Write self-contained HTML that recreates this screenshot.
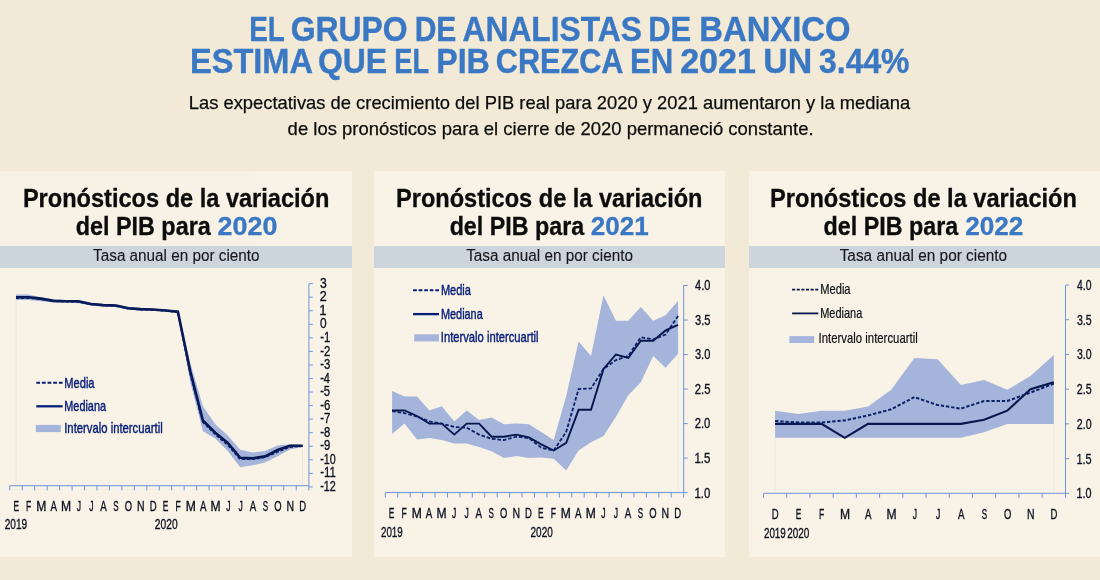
<!DOCTYPE html>
<html><head><meta charset="utf-8"><title>PIB</title>
<style>
html,body{margin:0;padding:0;background:#f2ead6;}
body{width:1100px;height:580px;overflow:hidden;position:relative;font-family:"Liberation Sans",sans-serif;}
svg{position:absolute;left:0;top:0;display:block;will-change:transform;opacity:0.999}
text{font-family:"Liberation Sans",sans-serif;}
</style></head><body>
<svg width="1100" height="580" viewBox="0 0 1100 580">
<rect width="1100" height="580" fill="#f2ead6"/>
<rect x="0" y="171" width="352" height="386" fill="#f8f3e6"/>
<rect x="0" y="246" width="352" height="22" fill="#ccd5dd"/>
<rect x="374" y="171" width="351" height="386" fill="#f8f3e6"/>
<rect x="374" y="246" width="351" height="22" fill="#ccd5dd"/>
<rect x="749" y="171" width="351" height="386" fill="#f8f3e6"/>
<rect x="749" y="246" width="351" height="22" fill="#ccd5dd"/>
<text x="249.16" y="40.8" font-size="34.7" fill="#3b78c4" font-weight="bold" text-anchor="start" textLength="35.62" lengthAdjust="spacingAndGlyphs" stroke="#3b78c4" stroke-width="0.4">EL</text>
<text x="290.70" y="40.8" font-size="34.7" fill="#3b78c4" font-weight="bold" text-anchor="start" textLength="116.98" lengthAdjust="spacingAndGlyphs" stroke="#3b78c4" stroke-width="0.4">GRUPO</text>
<text x="414.63" y="40.8" font-size="34.7" fill="#3b78c4" font-weight="bold" text-anchor="start" textLength="41.67" lengthAdjust="spacingAndGlyphs" stroke="#3b78c4" stroke-width="0.4">DE</text>
<text x="462.50" y="40.8" font-size="34.7" fill="#3b78c4" font-weight="bold" text-anchor="start" textLength="179.43" lengthAdjust="spacingAndGlyphs" stroke="#3b78c4" stroke-width="0.4">ANALISTAS</text>
<text x="648.17" y="40.8" font-size="34.7" fill="#3b78c4" font-weight="bold" text-anchor="start" textLength="42.95" lengthAdjust="spacingAndGlyphs" stroke="#3b78c4" stroke-width="0.4">DE</text>
<text x="699.35" y="40.8" font-size="34.7" fill="#3b78c4" font-weight="bold" text-anchor="start" textLength="151.16" lengthAdjust="spacingAndGlyphs" stroke="#3b78c4" stroke-width="0.4">BANXICO</text>
<text x="189.97" y="72.8" font-size="34.7" fill="#3b78c4" font-weight="bold" text-anchor="start" textLength="122.95" lengthAdjust="spacingAndGlyphs" stroke="#3b78c4" stroke-width="0.4">ESTIMA</text>
<text x="317.90" y="72.8" font-size="34.7" fill="#3b78c4" font-weight="bold" text-anchor="start" textLength="69.24" lengthAdjust="spacingAndGlyphs" stroke="#3b78c4" stroke-width="0.4">QUE</text>
<text x="394.30" y="72.8" font-size="34.7" fill="#3b78c4" font-weight="bold" text-anchor="start" textLength="34.77" lengthAdjust="spacingAndGlyphs" stroke="#3b78c4" stroke-width="0.4">EL</text>
<text x="436.19" y="72.8" font-size="34.7" fill="#3b78c4" font-weight="bold" text-anchor="start" textLength="53.63" lengthAdjust="spacingAndGlyphs" stroke="#3b78c4" stroke-width="0.4">PIB</text>
<text x="495.84" y="72.8" font-size="34.7" fill="#3b78c4" font-weight="bold" text-anchor="start" textLength="127.64" lengthAdjust="spacingAndGlyphs" stroke="#3b78c4" stroke-width="0.4">CREZCA</text>
<text x="630.05" y="72.8" font-size="34.7" fill="#3b78c4" font-weight="bold" text-anchor="start" textLength="43.30" lengthAdjust="spacingAndGlyphs" stroke="#3b78c4" stroke-width="0.4">EN</text>
<text x="680.14" y="72.8" font-size="34.7" fill="#3b78c4" font-weight="bold" text-anchor="start" textLength="75.71" lengthAdjust="spacingAndGlyphs" stroke="#3b78c4" stroke-width="0.4">2021</text>
<text x="763.31" y="72.8" font-size="34.7" fill="#3b78c4" font-weight="bold" text-anchor="start" textLength="48.92" lengthAdjust="spacingAndGlyphs" stroke="#3b78c4" stroke-width="0.4">UN</text>
<text x="819.10" y="72.8" font-size="34.7" fill="#3b78c4" font-weight="bold" text-anchor="start" textLength="90.35" lengthAdjust="spacingAndGlyphs" stroke="#3b78c4" stroke-width="0.4">3.44%</text>
<text x="188.75" y="108.8" font-size="19.0" fill="#0c0c0c" font-weight="normal" text-anchor="start" textLength="721.42" lengthAdjust="spacingAndGlyphs" stroke="#0c0c0c" stroke-width="0.25">Las expectativas de crecimiento del PIB real para 2020 y 2021 aumentaron y la mediana</text>
<text x="287.62" y="134.5" font-size="19.0" fill="#0c0c0c" font-weight="normal" text-anchor="start" textLength="526.01" lengthAdjust="spacingAndGlyphs" stroke="#0c0c0c" stroke-width="0.25">de los pronósticos para el cierre de 2020 permaneció constante.</text>
<text x="22.89" y="206.7" font-size="24.9" fill="#0c0c0c" font-weight="bold" text-anchor="start" textLength="306.54" lengthAdjust="spacingAndGlyphs" stroke="#0c0c0c" stroke-width="0.3">Pronósticos de la variación</text>
<text x="75.66" y="234.7" font-size="24.9" fill="#0c0c0c" font-weight="bold" text-anchor="start" textLength="135.10" lengthAdjust="spacingAndGlyphs" stroke="#0c0c0c" stroke-width="0.3">del PIB para</text>
<text x="217.64" y="234.7" font-size="24.9" fill="#3b78c4" font-weight="bold" text-anchor="start" textLength="59.79" lengthAdjust="spacingAndGlyphs" stroke="#3b78c4" stroke-width="0.3">2020</text>
<text x="93.11" y="260.8" font-size="15.6" fill="#15171c" font-weight="normal" text-anchor="start" textLength="166.46" lengthAdjust="spacingAndGlyphs" stroke="#15171c" stroke-width="0.12">Tasa anual en por ciento</text>
<text x="395.99" y="206.7" font-size="24.9" fill="#0c0c0c" font-weight="bold" text-anchor="start" textLength="306.54" lengthAdjust="spacingAndGlyphs" stroke="#0c0c0c" stroke-width="0.3">Pronósticos de la variación</text>
<text x="449.67" y="234.7" font-size="24.9" fill="#0c0c0c" font-weight="bold" text-anchor="start" textLength="134.50" lengthAdjust="spacingAndGlyphs" stroke="#0c0c0c" stroke-width="0.3">del PIB para</text>
<text x="590.76" y="234.7" font-size="24.9" fill="#3b78c4" font-weight="bold" text-anchor="start" textLength="57.91" lengthAdjust="spacingAndGlyphs" stroke="#3b78c4" stroke-width="0.3">2021</text>
<text x="466.21" y="260.8" font-size="15.6" fill="#15171c" font-weight="normal" text-anchor="start" textLength="166.76" lengthAdjust="spacingAndGlyphs" stroke="#15171c" stroke-width="0.12">Tasa anual en por ciento</text>
<text x="770.08" y="206.7" font-size="24.9" fill="#0c0c0c" font-weight="bold" text-anchor="start" textLength="306.85" lengthAdjust="spacingAndGlyphs" stroke="#0c0c0c" stroke-width="0.3">Pronósticos de la variación</text>
<text x="823.46" y="234.7" font-size="24.9" fill="#0c0c0c" font-weight="bold" text-anchor="start" textLength="134.80" lengthAdjust="spacingAndGlyphs" stroke="#0c0c0c" stroke-width="0.3">del PIB para</text>
<text x="965.16" y="234.7" font-size="24.9" fill="#3b78c4" font-weight="bold" text-anchor="start" textLength="58.24" lengthAdjust="spacingAndGlyphs" stroke="#3b78c4" stroke-width="0.3">2022</text>
<text x="839.70" y="260.8" font-size="15.6" fill="#15171c" font-weight="normal" text-anchor="start" textLength="167.36" lengthAdjust="spacingAndGlyphs" stroke="#15171c" stroke-width="0.12">Tasa anual en por ciento</text>
<line x1="16.0" y1="297.2" x2="16.0" y2="485.7" stroke="#cfd2d8" stroke-width="1" opacity="0.3"/>
<line x1="302.5" y1="446.2" x2="302.5" y2="485.7" stroke="#cfd2d8" stroke-width="1" opacity="0.3"/>
<polygon points="16.0,294.5 28.5,294.5 40.9,297.2 53.4,299.2 65.8,299.9 78.3,299.9 90.8,302.6 103.2,304.0 115.7,304.0 128.1,306.7 140.6,308.0 153.0,308.7 165.5,309.4 177.9,310.8 190.4,363.6 202.9,406.3 215.3,424.2 227.8,435.5 240.2,449.8 252.7,452.5 265.1,450.9 277.6,445.4 290.0,444.2 302.5,444.9 302.5,446.9 290.0,449.6 277.6,456.3 265.1,462.5 252.7,465.2 240.2,467.3 227.8,450.9 215.3,438.4 202.9,431.3 190.4,382.6 177.9,312.8 165.5,311.4 153.0,310.8 140.6,310.8 128.1,309.4 115.7,306.7 103.2,306.7 90.8,305.3 78.3,303.3 65.8,302.6 53.4,302.6 40.9,301.3 28.5,299.9 16.0,299.9" fill="#a4b4da"/>
<polyline points="16.0,297.2 28.5,297.2 40.9,298.6 53.4,300.9 65.8,301.3 78.3,301.3 90.8,304.0 103.2,305.1 115.7,305.5 128.1,308.2 140.6,309.1 153.0,309.5 165.5,310.5 177.9,311.8 190.4,371.7 202.9,420.5 215.3,432.7 227.8,442.9 240.2,457.8 252.7,458.4 265.1,456.4 277.6,450.0 290.0,445.8 302.5,445.8" fill="none" stroke="#07164d" stroke-width="2.6" stroke-linejoin="miter"/>
<polyline points="16.0,297.9 28.5,297.9 40.9,299.0 53.4,301.0 65.8,301.5 78.3,301.7 90.8,304.2 103.2,305.3 115.7,305.9 128.1,308.4 140.6,309.4 153.0,309.7 165.5,310.8 177.9,312.0 190.4,374.4 202.9,421.9 215.3,434.3 227.8,444.9 240.2,459.1 252.7,459.1 265.1,457.1 277.6,451.7 290.0,446.9 302.5,446.0" fill="none" stroke="#0b1f66" stroke-width="2.0" stroke-dasharray="3.2 1.8"/>
<path d="M9.8,485.7 H308.9 M308.9,283.6 V490.4 M9.80,485.7 v4.7 M22.26,485.7 v4.7 M34.71,485.7 v4.7 M47.17,485.7 v4.7 M59.62,485.7 v4.7 M72.08,485.7 v4.7 M84.53,485.7 v4.7 M96.98,485.7 v4.7 M109.44,485.7 v4.7 M121.89,485.7 v4.7 M134.35,485.7 v4.7 M146.81,485.7 v4.7 M159.26,485.7 v4.7 M171.72,485.7 v4.7 M184.17,485.7 v4.7 M196.62,485.7 v4.7 M209.08,485.7 v4.7 M221.54,485.7 v4.7 M233.99,485.7 v4.7 M246.45,485.7 v4.7 M258.90,485.7 v4.7 M271.36,485.7 v4.7 M283.81,485.7 v4.7 M296.26,485.7 v4.7 M308.9,283.65 h3.9 M308.9,297.20 h3.9 M308.9,310.75 h3.9 M308.9,324.30 h3.9 M308.9,337.85 h3.9 M308.9,351.40 h3.9 M308.9,364.95 h3.9 M308.9,378.50 h3.9 M308.9,392.05 h3.9 M308.9,405.60 h3.9 M308.9,419.15 h3.9 M308.9,432.70 h3.9 M308.9,446.25 h3.9 M308.9,459.80 h3.9 M308.9,473.35 h3.9 M308.9,486.90 h3.9" stroke="#7193dc" stroke-width="1.0" fill="none"/>
<text x="319.90" y="287.75" font-size="15.0" fill="#0b1020" font-weight="normal" text-anchor="start" textLength="6.72" lengthAdjust="spacingAndGlyphs" stroke="#0b1020" stroke-width="0.33">3</text>
<text x="319.71" y="301.3" font-size="15.0" fill="#0b1020" font-weight="normal" text-anchor="start" textLength="7.01" lengthAdjust="spacingAndGlyphs" stroke="#0b1020" stroke-width="0.33">2</text>
<text x="319.33" y="314.85" font-size="15.0" fill="#0b1020" font-weight="normal" text-anchor="start" textLength="7.33" lengthAdjust="spacingAndGlyphs" stroke="#0b1020" stroke-width="0.33">1</text>
<text x="319.90" y="328.40000000000003" font-size="15.0" fill="#0b1020" font-weight="normal" text-anchor="start" textLength="6.63" lengthAdjust="spacingAndGlyphs" stroke="#0b1020" stroke-width="0.33">0</text>
<text x="320.15" y="341.95000000000005" font-size="15.0" fill="#0b1020" font-weight="normal" text-anchor="start" textLength="10.03" lengthAdjust="spacingAndGlyphs" stroke="#0b1020" stroke-width="0.33">-1</text>
<text x="320.14" y="355.50000000000006" font-size="15.0" fill="#0b1020" font-weight="normal" text-anchor="start" textLength="10.12" lengthAdjust="spacingAndGlyphs" stroke="#0b1020" stroke-width="0.33">-2</text>
<text x="320.15" y="369.05000000000007" font-size="15.0" fill="#0b1020" font-weight="normal" text-anchor="start" textLength="10.03" lengthAdjust="spacingAndGlyphs" stroke="#0b1020" stroke-width="0.33">-3</text>
<text x="320.16" y="382.6" font-size="15.0" fill="#0b1020" font-weight="normal" text-anchor="start" textLength="9.79" lengthAdjust="spacingAndGlyphs" stroke="#0b1020" stroke-width="0.33">-4</text>
<text x="320.15" y="396.15000000000003" font-size="15.0" fill="#0b1020" font-weight="normal" text-anchor="start" textLength="9.95" lengthAdjust="spacingAndGlyphs" stroke="#0b1020" stroke-width="0.33">-5</text>
<text x="320.15" y="409.70000000000005" font-size="15.0" fill="#0b1020" font-weight="normal" text-anchor="start" textLength="10.03" lengthAdjust="spacingAndGlyphs" stroke="#0b1020" stroke-width="0.33">-6</text>
<text x="320.14" y="423.25000000000006" font-size="15.0" fill="#0b1020" font-weight="normal" text-anchor="start" textLength="10.12" lengthAdjust="spacingAndGlyphs" stroke="#0b1020" stroke-width="0.33">-7</text>
<text x="320.15" y="436.80000000000007" font-size="15.0" fill="#0b1020" font-weight="normal" text-anchor="start" textLength="10.03" lengthAdjust="spacingAndGlyphs" stroke="#0b1020" stroke-width="0.33">-8</text>
<text x="320.15" y="450.35" font-size="15.0" fill="#0b1020" font-weight="normal" text-anchor="start" textLength="10.03" lengthAdjust="spacingAndGlyphs" stroke="#0b1020" stroke-width="0.33">-9</text>
<text x="320.17" y="463.90000000000003" font-size="15.0" fill="#0b1020" font-weight="normal" text-anchor="start" textLength="15.52" lengthAdjust="spacingAndGlyphs" stroke="#0b1020" stroke-width="0.33">-10</text>
<text x="320.14" y="477.45000000000005" font-size="15.0" fill="#0b1020" font-weight="normal" text-anchor="start" textLength="15.65" lengthAdjust="spacingAndGlyphs" stroke="#0b1020" stroke-width="0.33">-11</text>
<text x="320.17" y="491.00000000000006" font-size="15.0" fill="#0b1020" font-weight="normal" text-anchor="start" textLength="15.67" lengthAdjust="spacingAndGlyphs" stroke="#0b1020" stroke-width="0.33">-12</text>
<text x="13.38" y="510.8" font-size="14.2" fill="#0b1020" font-weight="normal" text-anchor="start" textLength="5.59" lengthAdjust="spacingAndGlyphs" stroke="#0b1020" stroke-width="0.33">E</text>
<text x="25.97" y="510.8" font-size="14.2" fill="#0b1020" font-weight="normal" text-anchor="start" textLength="5.25" lengthAdjust="spacingAndGlyphs" stroke="#0b1020" stroke-width="0.33">F</text>
<text x="36.20" y="510.8" font-size="14.2" fill="#0b1020" font-weight="normal" text-anchor="start" textLength="10.10" lengthAdjust="spacingAndGlyphs" stroke="#0b1020" stroke-width="0.33">M</text>
<text x="50.44" y="510.8" font-size="14.2" fill="#0b1020" font-weight="normal" text-anchor="start" textLength="6.48" lengthAdjust="spacingAndGlyphs" stroke="#0b1020" stroke-width="0.33">A</text>
<text x="61.11" y="510.8" font-size="14.2" fill="#0b1020" font-weight="normal" text-anchor="start" textLength="10.10" lengthAdjust="spacingAndGlyphs" stroke="#0b1020" stroke-width="0.33">M</text>
<text x="76.68" y="510.8" font-size="14.2" fill="#0b1020" font-weight="normal" text-anchor="start" textLength="4.33" lengthAdjust="spacingAndGlyphs" stroke="#0b1020" stroke-width="0.33">J</text>
<text x="89.14" y="510.8" font-size="14.2" fill="#0b1020" font-weight="normal" text-anchor="start" textLength="4.33" lengthAdjust="spacingAndGlyphs" stroke="#0b1020" stroke-width="0.33">J</text>
<text x="100.26" y="510.8" font-size="14.2" fill="#0b1020" font-weight="normal" text-anchor="start" textLength="6.48" lengthAdjust="spacingAndGlyphs" stroke="#0b1020" stroke-width="0.33">A</text>
<text x="113.28" y="510.8" font-size="14.2" fill="#0b1020" font-weight="normal" text-anchor="start" textLength="5.36" lengthAdjust="spacingAndGlyphs" stroke="#0b1020" stroke-width="0.33">S</text>
<text x="124.77" y="510.8" font-size="14.2" fill="#0b1020" font-weight="normal" text-anchor="start" textLength="7.33" lengthAdjust="spacingAndGlyphs" stroke="#0b1020" stroke-width="0.33">O</text>
<text x="137.12" y="510.8" font-size="14.2" fill="#0b1020" font-weight="normal" text-anchor="start" textLength="7.56" lengthAdjust="spacingAndGlyphs" stroke="#0b1020" stroke-width="0.33">N</text>
<text x="149.74" y="510.8" font-size="14.2" fill="#0b1020" font-weight="normal" text-anchor="start" textLength="6.88" lengthAdjust="spacingAndGlyphs" stroke="#0b1020" stroke-width="0.33">D</text>
<text x="162.84" y="510.8" font-size="14.2" fill="#0b1020" font-weight="normal" text-anchor="start" textLength="5.59" lengthAdjust="spacingAndGlyphs" stroke="#0b1020" stroke-width="0.33">E</text>
<text x="175.43" y="510.8" font-size="14.2" fill="#0b1020" font-weight="normal" text-anchor="start" textLength="5.25" lengthAdjust="spacingAndGlyphs" stroke="#0b1020" stroke-width="0.33">F</text>
<text x="185.66" y="510.8" font-size="14.2" fill="#0b1020" font-weight="normal" text-anchor="start" textLength="10.10" lengthAdjust="spacingAndGlyphs" stroke="#0b1020" stroke-width="0.33">M</text>
<text x="199.90" y="510.8" font-size="14.2" fill="#0b1020" font-weight="normal" text-anchor="start" textLength="6.48" lengthAdjust="spacingAndGlyphs" stroke="#0b1020" stroke-width="0.33">A</text>
<text x="210.57" y="510.8" font-size="14.2" fill="#0b1020" font-weight="normal" text-anchor="start" textLength="10.10" lengthAdjust="spacingAndGlyphs" stroke="#0b1020" stroke-width="0.33">M</text>
<text x="226.14" y="510.8" font-size="14.2" fill="#0b1020" font-weight="normal" text-anchor="start" textLength="4.33" lengthAdjust="spacingAndGlyphs" stroke="#0b1020" stroke-width="0.33">J</text>
<text x="238.60" y="510.8" font-size="14.2" fill="#0b1020" font-weight="normal" text-anchor="start" textLength="4.33" lengthAdjust="spacingAndGlyphs" stroke="#0b1020" stroke-width="0.33">J</text>
<text x="249.72" y="510.8" font-size="14.2" fill="#0b1020" font-weight="normal" text-anchor="start" textLength="6.48" lengthAdjust="spacingAndGlyphs" stroke="#0b1020" stroke-width="0.33">A</text>
<text x="262.74" y="510.8" font-size="14.2" fill="#0b1020" font-weight="normal" text-anchor="start" textLength="5.36" lengthAdjust="spacingAndGlyphs" stroke="#0b1020" stroke-width="0.33">S</text>
<text x="274.23" y="510.8" font-size="14.2" fill="#0b1020" font-weight="normal" text-anchor="start" textLength="7.33" lengthAdjust="spacingAndGlyphs" stroke="#0b1020" stroke-width="0.33">O</text>
<text x="286.58" y="510.8" font-size="14.2" fill="#0b1020" font-weight="normal" text-anchor="start" textLength="7.56" lengthAdjust="spacingAndGlyphs" stroke="#0b1020" stroke-width="0.33">N</text>
<text x="299.20" y="510.8" font-size="14.2" fill="#0b1020" font-weight="normal" text-anchor="start" textLength="6.88" lengthAdjust="spacingAndGlyphs" stroke="#0b1020" stroke-width="0.33">D</text>
<text x="4.71" y="529.1" font-size="14.3" fill="#0b1020" font-weight="normal" text-anchor="start" textLength="22.46" lengthAdjust="spacingAndGlyphs" stroke="#0b1020" stroke-width="0.33">2019</text>
<text x="154.80" y="529.1" font-size="14.3" fill="#0b1020" font-weight="normal" text-anchor="start" textLength="22.90" lengthAdjust="spacingAndGlyphs" stroke="#0b1020" stroke-width="0.33">2020</text>
<line x1="36.3" y1="382.8" x2="62.6" y2="382.8" stroke="#071d7a" stroke-width="1.9" stroke-dasharray="3.76 1.88"/>
<line x1="36.3" y1="406.3" x2="62.6" y2="406.3" stroke="#071d7a" stroke-width="2.3"/>
<rect x="35.8" y="424.9" width="25.0" height="7.2" fill="#a4b4da"/>
<text x="64.31" y="387.9" font-size="15.0" fill="#071d7a" font-weight="normal" text-anchor="start" textLength="30.25" lengthAdjust="spacingAndGlyphs" stroke="#071d7a" stroke-width="0.45">Media</text>
<text x="64.33" y="411" font-size="15.0" fill="#071d7a" font-weight="normal" text-anchor="start" textLength="41.63" lengthAdjust="spacingAndGlyphs" stroke="#071d7a" stroke-width="0.45">Mediana</text>
<text x="64.22" y="432.8" font-size="15.0" fill="#071d7a" font-weight="normal" text-anchor="start" textLength="98.48" lengthAdjust="spacingAndGlyphs" stroke="#071d7a" stroke-width="0.45">Intervalo intercuartil</text>
<line x1="678.1" y1="354.5" x2="678.1" y2="492.6" stroke="#cfd2d8" stroke-width="1" opacity="0.3"/>
<polygon points="392.1,391.1 404.5,396.6 417.0,396.6 429.4,410.5 441.8,406.3 454.3,421.5 466.7,410.5 479.1,420.1 491.6,417.4 504.0,424.3 516.4,423.6 528.9,424.3 541.3,431.9 553.7,440.1 566.2,396.0 578.6,341.4 591.0,355.9 603.5,295.2 615.9,320.7 628.3,320.7 640.8,306.9 653.2,320.7 665.6,315.2 678.1,300.7 678.1,353.8 665.6,367.7 653.2,355.9 640.8,382.2 628.3,395.3 615.9,416.7 603.5,436.0 591.0,442.2 578.6,450.5 566.2,470.5 553.7,458.8 541.3,457.4 528.9,458.1 516.4,456.0 504.0,458.1 491.6,451.2 479.1,447.0 466.7,443.6 454.3,443.6 441.8,440.1 429.4,438.1 417.0,439.4 404.5,423.6 392.1,433.9" fill="#a4b4da"/>
<polyline points="392.1,410.5 404.5,410.5 417.0,416.0 429.4,423.6 441.8,423.6 454.3,434.6 466.7,423.6 479.1,423.6 491.6,436.7 504.0,436.7 516.4,434.6 528.9,437.4 541.3,444.3 553.7,450.5 566.2,442.9 578.6,409.8 591.0,409.8 603.5,369.0 615.9,354.5 628.3,358.0 640.8,340.7 653.2,340.7 665.6,330.4 678.1,324.9" fill="none" stroke="#07164d" stroke-width="1.9" stroke-linejoin="miter"/>
<polyline points="392.1,411.1 404.5,413.2 417.0,416.7 429.4,421.5 441.8,423.6 454.3,427.0 466.7,427.7 479.1,434.6 491.6,438.8 504.0,440.1 516.4,436.7 528.9,438.1 541.3,447.7 553.7,450.5 566.2,431.9 578.6,389.1 591.0,388.4 603.5,369.0 615.9,360.1 628.3,355.9 640.8,337.3 653.2,339.4 665.6,334.5 678.1,315.9" fill="none" stroke="#0b1f66" stroke-width="1.8" stroke-dasharray="3.6 1.9"/>
<path d="M385.3,492.6 H687.7 M683.7,285.5 V497.6 M385.30,492.6 v5 M397.73,492.6 v5 M410.17,492.6 v5 M422.60,492.6 v5 M435.03,492.6 v5 M447.47,492.6 v5 M459.90,492.6 v5 M472.33,492.6 v5 M484.76,492.6 v5 M497.20,492.6 v5 M509.63,492.6 v5 M522.06,492.6 v5 M534.50,492.6 v5 M546.93,492.6 v5 M559.36,492.6 v5 M571.80,492.6 v5 M584.23,492.6 v5 M596.66,492.6 v5 M609.09,492.6 v5 M621.53,492.6 v5 M633.96,492.6 v5 M646.39,492.6 v5 M658.83,492.6 v5 M671.26,492.6 v5 M683.7,285.51 h4 M683.7,320.03 h4 M683.7,354.54 h4 M683.7,389.06 h4 M683.7,423.57 h4 M683.7,458.09 h4" stroke="#7193dc" stroke-width="1.0" fill="none"/>
<text x="695.08" y="290.40999999999997" font-size="15.1" fill="#0b1020" font-weight="normal" text-anchor="start" textLength="15.28" lengthAdjust="spacingAndGlyphs" stroke="#0b1020" stroke-width="0.33">4.0</text>
<text x="694.93" y="324.925" font-size="15.1" fill="#0b1020" font-weight="normal" text-anchor="start" textLength="15.51" lengthAdjust="spacingAndGlyphs" stroke="#0b1020" stroke-width="0.33">3.5</text>
<text x="694.93" y="359.44" font-size="15.1" fill="#0b1020" font-weight="normal" text-anchor="start" textLength="15.43" lengthAdjust="spacingAndGlyphs" stroke="#0b1020" stroke-width="0.33">3.0</text>
<text x="694.78" y="393.955" font-size="15.1" fill="#0b1020" font-weight="normal" text-anchor="start" textLength="15.67" lengthAdjust="spacingAndGlyphs" stroke="#0b1020" stroke-width="0.33">2.5</text>
<text x="694.78" y="428.47" font-size="15.1" fill="#0b1020" font-weight="normal" text-anchor="start" textLength="15.59" lengthAdjust="spacingAndGlyphs" stroke="#0b1020" stroke-width="0.33">2.0</text>
<text x="694.46" y="462.985" font-size="15.1" fill="#0b1020" font-weight="normal" text-anchor="start" textLength="15.99" lengthAdjust="spacingAndGlyphs" stroke="#0b1020" stroke-width="0.33">1.5</text>
<text x="694.47" y="497.5" font-size="15.1" fill="#0b1020" font-weight="normal" text-anchor="start" textLength="15.91" lengthAdjust="spacingAndGlyphs" stroke="#0b1020" stroke-width="0.33">1.0</text>
<text x="388.87" y="517.9" font-size="14.2" fill="#0b1020" font-weight="normal" text-anchor="start" textLength="5.59" lengthAdjust="spacingAndGlyphs" stroke="#0b1020" stroke-width="0.33">E</text>
<text x="401.43" y="517.9" font-size="14.2" fill="#0b1020" font-weight="normal" text-anchor="start" textLength="5.25" lengthAdjust="spacingAndGlyphs" stroke="#0b1020" stroke-width="0.33">F</text>
<text x="411.64" y="517.9" font-size="14.2" fill="#0b1020" font-weight="normal" text-anchor="start" textLength="10.10" lengthAdjust="spacingAndGlyphs" stroke="#0b1020" stroke-width="0.33">M</text>
<text x="425.87" y="517.9" font-size="14.2" fill="#0b1020" font-weight="normal" text-anchor="start" textLength="6.48" lengthAdjust="spacingAndGlyphs" stroke="#0b1020" stroke-width="0.33">A</text>
<text x="436.51" y="517.9" font-size="14.2" fill="#0b1020" font-weight="normal" text-anchor="start" textLength="10.10" lengthAdjust="spacingAndGlyphs" stroke="#0b1020" stroke-width="0.33">M</text>
<text x="452.06" y="517.9" font-size="14.2" fill="#0b1020" font-weight="normal" text-anchor="start" textLength="4.33" lengthAdjust="spacingAndGlyphs" stroke="#0b1020" stroke-width="0.33">J</text>
<text x="464.49" y="517.9" font-size="14.2" fill="#0b1020" font-weight="normal" text-anchor="start" textLength="4.33" lengthAdjust="spacingAndGlyphs" stroke="#0b1020" stroke-width="0.33">J</text>
<text x="475.60" y="517.9" font-size="14.2" fill="#0b1020" font-weight="normal" text-anchor="start" textLength="6.48" lengthAdjust="spacingAndGlyphs" stroke="#0b1020" stroke-width="0.33">A</text>
<text x="488.59" y="517.9" font-size="14.2" fill="#0b1020" font-weight="normal" text-anchor="start" textLength="5.36" lengthAdjust="spacingAndGlyphs" stroke="#0b1020" stroke-width="0.33">S</text>
<text x="500.07" y="517.9" font-size="14.2" fill="#0b1020" font-weight="normal" text-anchor="start" textLength="7.33" lengthAdjust="spacingAndGlyphs" stroke="#0b1020" stroke-width="0.33">O</text>
<text x="512.39" y="517.9" font-size="14.2" fill="#0b1020" font-weight="normal" text-anchor="start" textLength="7.56" lengthAdjust="spacingAndGlyphs" stroke="#0b1020" stroke-width="0.33">N</text>
<text x="524.99" y="517.9" font-size="14.2" fill="#0b1020" font-weight="normal" text-anchor="start" textLength="6.88" lengthAdjust="spacingAndGlyphs" stroke="#0b1020" stroke-width="0.33">D</text>
<text x="538.06" y="517.9" font-size="14.2" fill="#0b1020" font-weight="normal" text-anchor="start" textLength="5.59" lengthAdjust="spacingAndGlyphs" stroke="#0b1020" stroke-width="0.33">E</text>
<text x="550.63" y="517.9" font-size="14.2" fill="#0b1020" font-weight="normal" text-anchor="start" textLength="5.25" lengthAdjust="spacingAndGlyphs" stroke="#0b1020" stroke-width="0.33">F</text>
<text x="560.84" y="517.9" font-size="14.2" fill="#0b1020" font-weight="normal" text-anchor="start" textLength="10.10" lengthAdjust="spacingAndGlyphs" stroke="#0b1020" stroke-width="0.33">M</text>
<text x="575.06" y="517.9" font-size="14.2" fill="#0b1020" font-weight="normal" text-anchor="start" textLength="6.48" lengthAdjust="spacingAndGlyphs" stroke="#0b1020" stroke-width="0.33">A</text>
<text x="585.70" y="517.9" font-size="14.2" fill="#0b1020" font-weight="normal" text-anchor="start" textLength="10.10" lengthAdjust="spacingAndGlyphs" stroke="#0b1020" stroke-width="0.33">M</text>
<text x="601.26" y="517.9" font-size="14.2" fill="#0b1020" font-weight="normal" text-anchor="start" textLength="4.33" lengthAdjust="spacingAndGlyphs" stroke="#0b1020" stroke-width="0.33">J</text>
<text x="613.69" y="517.9" font-size="14.2" fill="#0b1020" font-weight="normal" text-anchor="start" textLength="4.33" lengthAdjust="spacingAndGlyphs" stroke="#0b1020" stroke-width="0.33">J</text>
<text x="624.79" y="517.9" font-size="14.2" fill="#0b1020" font-weight="normal" text-anchor="start" textLength="6.48" lengthAdjust="spacingAndGlyphs" stroke="#0b1020" stroke-width="0.33">A</text>
<text x="637.79" y="517.9" font-size="14.2" fill="#0b1020" font-weight="normal" text-anchor="start" textLength="5.36" lengthAdjust="spacingAndGlyphs" stroke="#0b1020" stroke-width="0.33">S</text>
<text x="649.26" y="517.9" font-size="14.2" fill="#0b1020" font-weight="normal" text-anchor="start" textLength="7.33" lengthAdjust="spacingAndGlyphs" stroke="#0b1020" stroke-width="0.33">O</text>
<text x="661.58" y="517.9" font-size="14.2" fill="#0b1020" font-weight="normal" text-anchor="start" textLength="7.56" lengthAdjust="spacingAndGlyphs" stroke="#0b1020" stroke-width="0.33">N</text>
<text x="674.19" y="517.9" font-size="14.2" fill="#0b1020" font-weight="normal" text-anchor="start" textLength="6.88" lengthAdjust="spacingAndGlyphs" stroke="#0b1020" stroke-width="0.33">D</text>
<text x="380.93" y="537.3" font-size="14.5" fill="#0b1020" font-weight="normal" text-anchor="start" textLength="21.82" lengthAdjust="spacingAndGlyphs" stroke="#0b1020" stroke-width="0.33">2019</text>
<text x="530.52" y="537.3" font-size="14.5" fill="#0b1020" font-weight="normal" text-anchor="start" textLength="22.27" lengthAdjust="spacingAndGlyphs" stroke="#0b1020" stroke-width="0.33">2020</text>
<line x1="413.1" y1="290.2" x2="439" y2="290.2" stroke="#071d7a" stroke-width="1.9" stroke-dasharray="3.70 1.85"/>
<line x1="413.1" y1="314.1" x2="439" y2="314.1" stroke="#071d7a" stroke-width="2.3"/>
<rect x="414.2" y="334.3" width="24.8" height="7.1" fill="#a4b4da"/>
<text x="440.92" y="294.8" font-size="15.0" fill="#071d7a" font-weight="normal" text-anchor="start" textLength="30.04" lengthAdjust="spacingAndGlyphs" stroke="#071d7a" stroke-width="0.45">Media</text>
<text x="440.93" y="318.9" font-size="15.0" fill="#071d7a" font-weight="normal" text-anchor="start" textLength="41.83" lengthAdjust="spacingAndGlyphs" stroke="#071d7a" stroke-width="0.45">Mediana</text>
<text x="440.83" y="341.7" font-size="15.0" fill="#071d7a" font-weight="normal" text-anchor="start" textLength="97.77" lengthAdjust="spacingAndGlyphs" stroke="#071d7a" stroke-width="0.45">Intervalo intercuartil</text>
<line x1="775.1" y1="437.8" x2="775.1" y2="493.3" stroke="#cfd2d8" stroke-width="1" opacity="0.3"/>
<line x1="1053.8" y1="423.9" x2="1053.8" y2="493.3" stroke="#cfd2d8" stroke-width="1" opacity="0.3"/>
<polygon points="775.1,410.7 798.3,414.1 821.5,410.7 844.8,410.7 868.0,406.5 891.2,389.8 914.4,357.9 937.6,359.3 960.9,385.0 984.1,380.1 1007.3,389.8 1030.5,376.0 1053.8,355.1 1053.8,423.9 1030.5,423.9 1007.3,423.9 984.1,432.2 960.9,437.8 937.6,437.8 914.4,437.8 891.2,437.8 868.0,437.8 844.8,437.8 821.5,437.8 798.3,437.8 775.1,437.8" fill="#a4b4da"/>
<polyline points="775.1,423.9 798.3,423.9 821.5,423.9 844.8,437.8 868.0,423.9 891.2,423.9 914.4,423.9 937.6,423.9 960.9,423.9 984.1,419.7 1007.3,410.7 1030.5,389.2 1053.8,382.2" fill="none" stroke="#07164d" stroke-width="2.1" stroke-linejoin="miter"/>
<polyline points="775.1,421.1 798.3,422.5 821.5,422.5 844.8,420.4 868.0,415.5 891.2,409.3 914.4,397.1 937.6,405.1 960.9,408.6 984.1,401.0 1007.3,401.0 1030.5,392.6 1053.8,383.6" fill="none" stroke="#0b1f66" stroke-width="2.0" stroke-dasharray="3.3 1.9"/>
<path d="M763.5,493.3 H1069.1 M1065.5,285.0 V497.90000000000003 M763.50,493.3 v4.6 M786.72,493.3 v4.6 M809.94,493.3 v4.6 M833.16,493.3 v4.6 M856.38,493.3 v4.6 M879.60,493.3 v4.6 M902.82,493.3 v4.6 M926.04,493.3 v4.6 M949.26,493.3 v4.6 M972.48,493.3 v4.6 M995.70,493.3 v4.6 M1018.92,493.3 v4.6 M1042.14,493.3 v4.6 M1065.5,285.01 h3.6 M1065.5,319.73 h3.6 M1065.5,354.44 h3.6 M1065.5,389.15 h3.6 M1065.5,423.87 h3.6 M1065.5,458.59 h3.6" stroke="#7193dc" stroke-width="1.0" fill="none"/>
<text x="1077.09" y="290.01" font-size="15.1" fill="#0b1020" font-weight="normal" text-anchor="start" textLength="14.45" lengthAdjust="spacingAndGlyphs" stroke="#0b1020" stroke-width="0.33">4.0</text>
<text x="1076.95" y="324.725" font-size="15.1" fill="#0b1020" font-weight="normal" text-anchor="start" textLength="14.67" lengthAdjust="spacingAndGlyphs" stroke="#0b1020" stroke-width="0.33">3.5</text>
<text x="1076.95" y="359.44" font-size="15.1" fill="#0b1020" font-weight="normal" text-anchor="start" textLength="14.59" lengthAdjust="spacingAndGlyphs" stroke="#0b1020" stroke-width="0.33">3.0</text>
<text x="1076.81" y="394.155" font-size="15.1" fill="#0b1020" font-weight="normal" text-anchor="start" textLength="14.82" lengthAdjust="spacingAndGlyphs" stroke="#0b1020" stroke-width="0.33">2.5</text>
<text x="1076.81" y="428.87" font-size="15.1" fill="#0b1020" font-weight="normal" text-anchor="start" textLength="14.74" lengthAdjust="spacingAndGlyphs" stroke="#0b1020" stroke-width="0.33">2.0</text>
<text x="1076.51" y="463.58500000000004" font-size="15.1" fill="#0b1020" font-weight="normal" text-anchor="start" textLength="15.12" lengthAdjust="spacingAndGlyphs" stroke="#0b1020" stroke-width="0.33">1.5</text>
<text x="1076.51" y="498.3" font-size="15.1" fill="#0b1020" font-weight="normal" text-anchor="start" textLength="15.05" lengthAdjust="spacingAndGlyphs" stroke="#0b1020" stroke-width="0.33">1.0</text>
<text x="771.82" y="518.5" font-size="14.2" fill="#0b1020" font-weight="normal" text-anchor="start" textLength="6.88" lengthAdjust="spacingAndGlyphs" stroke="#0b1020" stroke-width="0.33">D</text>
<text x="795.68" y="518.5" font-size="14.2" fill="#0b1020" font-weight="normal" text-anchor="start" textLength="5.59" lengthAdjust="spacingAndGlyphs" stroke="#0b1020" stroke-width="0.33">E</text>
<text x="819.03" y="518.5" font-size="14.2" fill="#0b1020" font-weight="normal" text-anchor="start" textLength="5.25" lengthAdjust="spacingAndGlyphs" stroke="#0b1020" stroke-width="0.33">F</text>
<text x="840.03" y="518.5" font-size="14.2" fill="#0b1020" font-weight="normal" text-anchor="start" textLength="10.10" lengthAdjust="spacingAndGlyphs" stroke="#0b1020" stroke-width="0.33">M</text>
<text x="865.04" y="518.5" font-size="14.2" fill="#0b1020" font-weight="normal" text-anchor="start" textLength="6.48" lengthAdjust="spacingAndGlyphs" stroke="#0b1020" stroke-width="0.33">A</text>
<text x="886.47" y="518.5" font-size="14.2" fill="#0b1020" font-weight="normal" text-anchor="start" textLength="10.10" lengthAdjust="spacingAndGlyphs" stroke="#0b1020" stroke-width="0.33">M</text>
<text x="912.81" y="518.5" font-size="14.2" fill="#0b1020" font-weight="normal" text-anchor="start" textLength="4.33" lengthAdjust="spacingAndGlyphs" stroke="#0b1020" stroke-width="0.33">J</text>
<text x="936.03" y="518.5" font-size="14.2" fill="#0b1020" font-weight="normal" text-anchor="start" textLength="4.33" lengthAdjust="spacingAndGlyphs" stroke="#0b1020" stroke-width="0.33">J</text>
<text x="957.92" y="518.5" font-size="14.2" fill="#0b1020" font-weight="normal" text-anchor="start" textLength="6.48" lengthAdjust="spacingAndGlyphs" stroke="#0b1020" stroke-width="0.33">A</text>
<text x="981.70" y="518.5" font-size="14.2" fill="#0b1020" font-weight="normal" text-anchor="start" textLength="5.36" lengthAdjust="spacingAndGlyphs" stroke="#0b1020" stroke-width="0.33">S</text>
<text x="1003.96" y="518.5" font-size="14.2" fill="#0b1020" font-weight="normal" text-anchor="start" textLength="7.33" lengthAdjust="spacingAndGlyphs" stroke="#0b1020" stroke-width="0.33">O</text>
<text x="1027.07" y="518.5" font-size="14.2" fill="#0b1020" font-weight="normal" text-anchor="start" textLength="7.56" lengthAdjust="spacingAndGlyphs" stroke="#0b1020" stroke-width="0.33">N</text>
<text x="1050.46" y="518.5" font-size="14.2" fill="#0b1020" font-weight="normal" text-anchor="start" textLength="6.88" lengthAdjust="spacingAndGlyphs" stroke="#0b1020" stroke-width="0.33">D</text>
<text x="763.92" y="537.9" font-size="14.5" fill="#0b1020" font-weight="normal" text-anchor="start" textLength="21.93" lengthAdjust="spacingAndGlyphs" stroke="#0b1020" stroke-width="0.33">2019</text>
<text x="787.22" y="537.9" font-size="14.5" fill="#0b1020" font-weight="normal" text-anchor="start" textLength="22.17" lengthAdjust="spacingAndGlyphs" stroke="#0b1020" stroke-width="0.33">2020</text>
<line x1="792.1" y1="289.7" x2="818.3" y2="289.7" stroke="#07164d" stroke-width="1.7" stroke-dasharray="3.08 1.54"/>
<line x1="792.1" y1="313.4" x2="818.3" y2="313.4" stroke="#07164d" stroke-width="1.8"/>
<rect x="789.4" y="336.1" width="24.7" height="6.9" fill="#a4b4da"/>
<text x="820.21" y="294.1" font-size="15.0" fill="#0e0f14" font-weight="normal" text-anchor="start" textLength="30.35" lengthAdjust="spacingAndGlyphs" stroke="#0e0f14" stroke-width="0.2">Media</text>
<text x="820.22" y="317.5" font-size="15.0" fill="#0e0f14" font-weight="normal" text-anchor="start" textLength="42.03" lengthAdjust="spacingAndGlyphs" stroke="#0e0f14" stroke-width="0.2">Mediana</text>
<text x="818.62" y="343.4" font-size="15.0" fill="#0e0f14" font-weight="normal" text-anchor="start" textLength="99.09" lengthAdjust="spacingAndGlyphs" stroke="#0e0f14" stroke-width="0.2">Intervalo intercuartil</text>
</svg></body></html>
